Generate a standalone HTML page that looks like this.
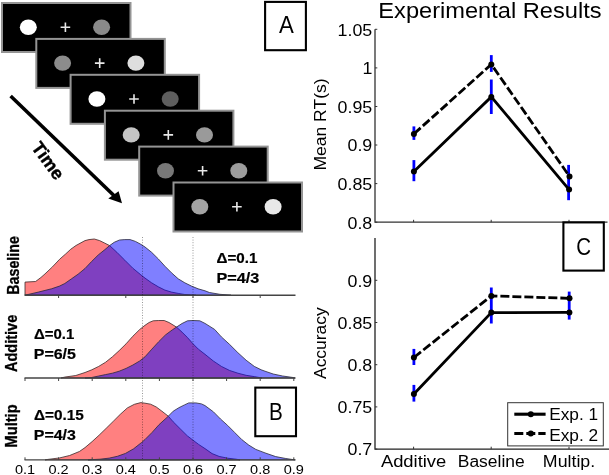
<!DOCTYPE html>
<html><head><meta charset="utf-8"><style>
html,body{margin:0;padding:0;background:#fff;}
svg{display:block;will-change:transform;}
text{font-family:"Liberation Sans", sans-serif;fill:#000;}
</style></head><body>
<svg width="609" height="475" viewBox="0 0 609 475">
<rect width="609" height="475" fill="#fff"/>
<rect x="2.0" y="3.0" width="128.5" height="49" fill="#000" stroke="#949494" stroke-width="2"/>
<ellipse cx="28.3" cy="27.2" rx="8.5" ry="7.7" fill="#ffffff"/>
<ellipse cx="101.6" cy="27.2" rx="8.5" ry="7.7" fill="#8a8a8a"/>
<path d="M60.6 27.2H70.2M65.4 22.4V32.0" stroke="#e8e8e8" stroke-width="1.6"/>
<rect x="36.3" y="38.9" width="128.5" height="49" fill="#000" stroke="#949494" stroke-width="2"/>
<ellipse cx="62.6" cy="63.1" rx="8.5" ry="7.7" fill="#8c8c8c"/>
<ellipse cx="135.9" cy="63.1" rx="8.5" ry="7.7" fill="#dedede"/>
<path d="M94.9 63.1H104.5M99.7 58.3V67.9" stroke="#e8e8e8" stroke-width="1.6"/>
<rect x="70.6" y="74.8" width="128.5" height="49" fill="#000" stroke="#949494" stroke-width="2"/>
<ellipse cx="96.9" cy="99.0" rx="8.5" ry="7.7" fill="#ffffff"/>
<ellipse cx="170.2" cy="99.0" rx="8.5" ry="7.7" fill="#5e5e5e"/>
<path d="M129.2 99.0H138.8M134.0 94.2V103.8" stroke="#e8e8e8" stroke-width="1.6"/>
<rect x="104.9" y="110.7" width="128.5" height="49" fill="#000" stroke="#949494" stroke-width="2"/>
<ellipse cx="131.2" cy="134.9" rx="8.5" ry="7.7" fill="#c4c4c4"/>
<ellipse cx="204.5" cy="134.9" rx="8.5" ry="7.7" fill="#9a9a9a"/>
<path d="M163.5 134.9H173.1M168.3 130.1V139.7" stroke="#e8e8e8" stroke-width="1.6"/>
<rect x="139.2" y="146.6" width="128.5" height="49" fill="#000" stroke="#949494" stroke-width="2"/>
<ellipse cx="165.5" cy="170.8" rx="8.5" ry="7.7" fill="#787878"/>
<ellipse cx="238.8" cy="170.8" rx="8.5" ry="7.7" fill="#9c9c9c"/>
<path d="M197.8 170.8H207.4M202.6 166.0V175.6" stroke="#e8e8e8" stroke-width="1.6"/>
<rect x="173.5" y="182.5" width="128.5" height="49" fill="#000" stroke="#949494" stroke-width="2"/>
<ellipse cx="199.8" cy="206.7" rx="8.5" ry="7.7" fill="#a4a4a4"/>
<ellipse cx="273.1" cy="206.7" rx="8.5" ry="7.7" fill="#e8e8e8"/>
<path d="M232.1 206.7H241.7M236.9 201.9V211.5" stroke="#e8e8e8" stroke-width="1.6"/>
<rect x="265.1" y="1.9" width="40.8" height="48.3" fill="#fff" stroke="#000" stroke-width="2.1"/>
<text x="286.3" y="33.4" font-size="23.3" text-anchor="middle" textLength="14.8" lengthAdjust="spacingAndGlyphs">A</text>
<path d="M10.6 96 L116.5 198" stroke="#000" stroke-width="3.6" fill="none"/>
<path d="M122 203.3 L108.3 198.6 L118.6 191.2 Z" fill="#000"/>
<text x="0" y="0" font-size="18" font-weight="700" text-anchor="middle" stroke="#000" stroke-width="0.4" transform="translate(48.2 160.6) rotate(54) translate(0 6.3)">Time</text>
<polygon points="25.0,295.2 25.0,282.1 35.6,281.5 40.9,277.5 45.0,273.9 52.4,266.9 59.7,259.2 65.6,254.0 70.8,249.2 76.0,245.5 80.0,243.3 85.0,240.6 89.0,239.6 94.3,239.0 99.6,240.6 104.9,243.2 109.6,245.6 116.9,252.3 124.8,260.2 132.8,268.2 140.8,274.8 145.0,278.1 151.6,282.8 158.3,286.8 164.9,290.1 171.5,292.1 178.2,293.4 184.8,294.5 191.5,295.0 196.0,295.2" fill="#ff8080" stroke="#3a2a2a" stroke-width="0.8"/>
<polygon points="25.0,295.2 38.3,292.1 51.5,288.8 59.5,286.1 64.8,283.5 71.5,278.8 78.1,274.2 85.0,268.5 91.6,261.5 98.3,254.9 104.9,249.6 109.6,245.6 114.2,242.3 119.5,240.0 124.8,239.6 130.1,239.6 135.4,241.4 140.8,244.3 145.0,247.0 151.6,252.3 158.3,258.9 164.9,266.2 171.5,272.8 178.2,278.8 184.8,282.8 191.5,286.1 198.1,288.8 205.0,290.8 209.4,292.5 219.9,294.3 231.0,295.2" fill="rgba(0,0,255,0.5)" stroke="#2a2a3a" stroke-width="0.8"/>
<line x1="24.5" y1="295.2" x2="295.5" y2="295.2" stroke="#444" stroke-width="1.4"/>
<polygon points="61.0,378.0 64.7,377.1 75.8,375.5 85.0,372.5 91.8,369.8 98.7,366.4 105.5,362.3 112.4,356.8 119.2,350.6 126.1,343.8 132.9,336.2 139.8,329.4 145.0,325.3 149.1,322.5 153.2,320.8 158.7,320.5 164.2,320.5 169.0,322.5 176.5,327.1 182.0,332.1 187.5,337.6 193.0,343.8 198.4,349.2 205.0,354.3 213.2,360.9 221.4,366.4 229.7,370.5 237.9,373.2 246.1,375.3 254.3,376.6 262.0,378.0" fill="#ff8080" stroke="#3a2a2a" stroke-width="0.8"/>
<polygon points="85.0,378.0 91.6,377.5 98.7,376.0 105.5,374.6 112.4,373.2 119.2,371.2 126.1,368.4 132.9,365.0 139.8,360.9 145.0,356.8 151.8,349.2 158.7,341.7 165.5,334.9 172.4,329.8 176.5,327.1 182.0,323.5 187.5,320.8 193.0,320.5 199.8,320.8 205.0,323.4 214.6,329.4 221.4,336.9 229.7,344.5 237.9,352.7 246.1,360.2 254.3,366.4 261.2,369.8 265.0,371.2 273.2,374.0 282.6,376.0 293.7,377.6 295.0,378.0" fill="rgba(0,0,255,0.5)" stroke="#2a2a3a" stroke-width="0.8"/>
<line x1="24.5" y1="378.0" x2="295.5" y2="378.0" stroke="#444" stroke-width="1.4"/>
<polygon points="45.0,459.9 47.9,459.4 59.7,457.9 69.6,455.5 79.4,451.5 85.0,447.6 92.1,441.6 99.1,435.2 106.2,428.3 113.2,421.4 120.3,414.3 127.4,407.9 134.4,404.3 140.8,402.6 145.0,403.2 150.6,404.2 156.3,407.0 161.9,411.2 168.3,416.2 173.2,421.8 180.3,428.9 187.4,435.9 193.0,440.2 198.6,444.4 205.0,448.6 212.1,453.6 219.1,456.4 227.6,458.2 236.1,459.2 240.0,459.9" fill="#ff8080" stroke="#3a2a2a" stroke-width="0.8"/>
<polygon points="88.0,459.9 92.0,459.6 100.0,459.2 109.3,458.1 117.4,456.3 125.5,453.4 133.6,448.8 141.7,442.4 145.0,439.5 152.1,432.4 159.1,424.6 168.3,416.2 173.2,411.2 178.9,407.7 184.5,404.9 188.8,402.9 195.8,402.9 201.5,403.9 205.0,405.6 213.5,411.9 220.5,419.0 227.6,425.4 234.6,432.4 241.7,439.5 248.8,445.1 255.8,449.4 265.0,452.9 275.7,456.6 285.8,458.5 295.1,459.9" fill="rgba(0,0,255,0.5)" stroke="#2a2a3a" stroke-width="0.8"/>
<line x1="24.5" y1="459.9" x2="295.5" y2="459.9" stroke="#444" stroke-width="1.4"/>
<line x1="142.5" y1="237" x2="142.5" y2="460" stroke="#000" stroke-opacity="0.45" stroke-width="0.9" stroke-dasharray="1 1.6"/>
<line x1="193.0" y1="237" x2="193.0" y2="460" stroke="#000" stroke-opacity="0.45" stroke-width="0.9" stroke-dasharray="1 1.6"/>
<line x1="58.6" y1="295.2" x2="58.6" y2="298" stroke="#444" stroke-width="1"/>
<line x1="125.8" y1="295.2" x2="125.8" y2="298" stroke="#444" stroke-width="1"/>
<line x1="193.0" y1="295.2" x2="193.0" y2="298" stroke="#444" stroke-width="1"/>
<line x1="260.2" y1="295.2" x2="260.2" y2="298" stroke="#444" stroke-width="1"/>
<line x1="25.0" y1="378" x2="25.0" y2="381" stroke="#444" stroke-width="1"/>
<line x1="58.6" y1="378" x2="58.6" y2="381" stroke="#444" stroke-width="1"/>
<line x1="92.2" y1="378" x2="92.2" y2="381" stroke="#444" stroke-width="1"/>
<line x1="125.8" y1="378" x2="125.8" y2="381" stroke="#444" stroke-width="1"/>
<line x1="159.4" y1="378" x2="159.4" y2="381" stroke="#444" stroke-width="1"/>
<line x1="193.0" y1="378" x2="193.0" y2="381" stroke="#444" stroke-width="1"/>
<line x1="226.6" y1="378" x2="226.6" y2="381" stroke="#444" stroke-width="1"/>
<line x1="260.2" y1="378" x2="260.2" y2="381" stroke="#444" stroke-width="1"/>
<line x1="293.8" y1="378" x2="293.8" y2="381" stroke="#444" stroke-width="1"/>
<line x1="25.0" y1="459.9" x2="25.0" y2="457.3" stroke="#444" stroke-width="1"/>
<line x1="58.6" y1="459.9" x2="58.6" y2="457.3" stroke="#444" stroke-width="1"/>
<line x1="92.2" y1="459.9" x2="92.2" y2="457.3" stroke="#444" stroke-width="1"/>
<line x1="125.8" y1="459.9" x2="125.8" y2="457.3" stroke="#444" stroke-width="1"/>
<line x1="159.4" y1="459.9" x2="159.4" y2="457.3" stroke="#444" stroke-width="1"/>
<line x1="193.0" y1="459.9" x2="193.0" y2="457.3" stroke="#444" stroke-width="1"/>
<line x1="226.6" y1="459.9" x2="226.6" y2="457.3" stroke="#444" stroke-width="1"/>
<line x1="260.2" y1="459.9" x2="260.2" y2="457.3" stroke="#444" stroke-width="1"/>
<line x1="293.8" y1="459.9" x2="293.8" y2="457.3" stroke="#444" stroke-width="1"/>
<text x="25.0" y="473.6" font-size="13.6" text-anchor="middle" textLength="20.2" lengthAdjust="spacingAndGlyphs">0.1</text>
<text x="58.6" y="473.6" font-size="13.6" text-anchor="middle" textLength="20.2" lengthAdjust="spacingAndGlyphs">0.2</text>
<text x="92.2" y="473.6" font-size="13.6" text-anchor="middle" textLength="20.2" lengthAdjust="spacingAndGlyphs">0.3</text>
<text x="125.8" y="473.6" font-size="13.6" text-anchor="middle" textLength="20.2" lengthAdjust="spacingAndGlyphs">0.4</text>
<text x="159.4" y="473.6" font-size="13.6" text-anchor="middle" textLength="20.2" lengthAdjust="spacingAndGlyphs">0.5</text>
<text x="193.0" y="473.6" font-size="13.6" text-anchor="middle" textLength="20.2" lengthAdjust="spacingAndGlyphs">0.6</text>
<text x="226.6" y="473.6" font-size="13.6" text-anchor="middle" textLength="20.2" lengthAdjust="spacingAndGlyphs">0.7</text>
<text x="260.2" y="473.6" font-size="13.6" text-anchor="middle" textLength="20.2" lengthAdjust="spacingAndGlyphs">0.8</text>
<text x="293.8" y="473.6" font-size="13.6" text-anchor="middle" textLength="20.2" lengthAdjust="spacingAndGlyphs">0.9</text>
<text x="0" y="0" font-size="16" font-weight="700" stroke="#000" stroke-width="0.3" text-anchor="middle" textLength="58.5" lengthAdjust="spacingAndGlyphs" transform="translate(18.5 265.4) rotate(-90)">Baseline</text>
<text x="0" y="0" font-size="16" font-weight="700" stroke="#000" stroke-width="0.3" text-anchor="middle" textLength="57.2" lengthAdjust="spacingAndGlyphs" transform="translate(17.3 343.4) rotate(-90)">Additive</text>
<text x="0" y="0" font-size="16" font-weight="700" stroke="#000" stroke-width="0.3" text-anchor="middle" textLength="43.2" lengthAdjust="spacingAndGlyphs" transform="translate(17.2 425.95) rotate(-90)">Multip</text>
<text x="216.5" y="262.6" font-size="14" font-weight="700" stroke="#000" stroke-width="0.2" textLength="40.9" lengthAdjust="spacingAndGlyphs">Δ=0.1</text>
<text x="216.5" y="283.0" font-size="14" font-weight="700" stroke="#000" stroke-width="0.2" textLength="42.8" lengthAdjust="spacingAndGlyphs">P=4/3</text>
<text x="34" y="339.4" font-size="14" font-weight="700" stroke="#000" stroke-width="0.2" textLength="40.3" lengthAdjust="spacingAndGlyphs">Δ=0.1</text>
<text x="33.8" y="359.1" font-size="14" font-weight="700" stroke="#000" stroke-width="0.2" textLength="42.1" lengthAdjust="spacingAndGlyphs">P=6/5</text>
<text x="34" y="420.1" font-size="14" font-weight="700" stroke="#000" stroke-width="0.2" textLength="49.8" lengthAdjust="spacingAndGlyphs">Δ=0.15</text>
<text x="33.8" y="440.2" font-size="14" font-weight="700" stroke="#000" stroke-width="0.2" textLength="42.1" lengthAdjust="spacingAndGlyphs">P=4/3</text>
<rect x="255.3" y="387.6" width="40.7" height="48.6" fill="#fff" stroke="#000" stroke-width="2.1"/>
<text x="276.0" y="419.9" font-size="23.5" text-anchor="middle" textLength="13.8" lengthAdjust="spacingAndGlyphs">B</text>
<text x="378.3" y="17.6" font-size="22.3" textLength="223.3" lengthAdjust="spacingAndGlyphs">Experimental Results</text>
<path d="M375 29.3 V222.2 H607.5" fill="none" stroke="#333" stroke-width="1.3"/>
<path d="M375 238.1 V449.1 H609" fill="none" stroke="#222" stroke-width="1.3"/>
<line x1="375" y1="29.3" x2="377.3" y2="29.3" stroke="#333" stroke-width="1"/>
<text x="372.3" y="35.6" font-size="16.8" text-anchor="end" textLength="34.7" lengthAdjust="spacingAndGlyphs">1.05</text>
<line x1="375" y1="67.9" x2="377.3" y2="67.9" stroke="#333" stroke-width="1"/>
<text x="372.3" y="74.2" font-size="16.8" text-anchor="end" textLength="9.9" lengthAdjust="spacingAndGlyphs">1</text>
<line x1="375" y1="106.5" x2="377.3" y2="106.5" stroke="#333" stroke-width="1"/>
<text x="372.3" y="112.8" font-size="16.8" text-anchor="end" textLength="34.7" lengthAdjust="spacingAndGlyphs">0.95</text>
<line x1="375" y1="145.0" x2="377.3" y2="145.0" stroke="#333" stroke-width="1"/>
<text x="372.3" y="151.3" font-size="16.8" text-anchor="end" textLength="24.8" lengthAdjust="spacingAndGlyphs">0.9</text>
<line x1="375" y1="183.6" x2="377.3" y2="183.6" stroke="#333" stroke-width="1"/>
<text x="372.3" y="189.9" font-size="16.8" text-anchor="end" textLength="34.7" lengthAdjust="spacingAndGlyphs">0.85</text>
<line x1="375" y1="222.2" x2="377.3" y2="222.2" stroke="#333" stroke-width="1"/>
<text x="372.3" y="228.5" font-size="16.8" text-anchor="end" textLength="24.8" lengthAdjust="spacingAndGlyphs">0.8</text>
<line x1="375" y1="280.3" x2="377.3" y2="280.3" stroke="#333" stroke-width="1"/>
<text x="372.3" y="286.6" font-size="16.8" text-anchor="end" textLength="24.8" lengthAdjust="spacingAndGlyphs">0.9</text>
<line x1="375" y1="322.5" x2="377.3" y2="322.5" stroke="#333" stroke-width="1"/>
<text x="372.3" y="328.8" font-size="16.8" text-anchor="end" textLength="34.7" lengthAdjust="spacingAndGlyphs">0.85</text>
<line x1="375" y1="364.7" x2="377.3" y2="364.7" stroke="#333" stroke-width="1"/>
<text x="372.3" y="371.0" font-size="16.8" text-anchor="end" textLength="24.8" lengthAdjust="spacingAndGlyphs">0.8</text>
<line x1="375" y1="406.9" x2="377.3" y2="406.9" stroke="#333" stroke-width="1"/>
<text x="372.3" y="413.2" font-size="16.8" text-anchor="end" textLength="34.7" lengthAdjust="spacingAndGlyphs">0.75</text>
<line x1="375" y1="449.1" x2="377.3" y2="449.1" stroke="#333" stroke-width="1"/>
<text x="372.3" y="455.4" font-size="16.8" text-anchor="end" textLength="24.8" lengthAdjust="spacingAndGlyphs">0.7</text>
<line x1="413.6" y1="222.2" x2="413.6" y2="219.8" stroke="#333" stroke-width="1"/>
<line x1="413.6" y1="449.1" x2="413.6" y2="446.7" stroke="#333" stroke-width="1"/>
<line x1="491.2" y1="222.2" x2="491.2" y2="219.8" stroke="#333" stroke-width="1"/>
<line x1="491.2" y1="449.1" x2="491.2" y2="446.7" stroke="#333" stroke-width="1"/>
<line x1="569.0" y1="222.2" x2="569.0" y2="219.8" stroke="#333" stroke-width="1"/>
<line x1="569.0" y1="449.1" x2="569.0" y2="446.7" stroke="#333" stroke-width="1"/>
<text x="0" y="0" font-size="16" text-anchor="middle" textLength="92.2" lengthAdjust="spacingAndGlyphs" transform="translate(326.2 124.5) rotate(-90)">Mean RT(s)</text>
<text x="0" y="0" font-size="16" text-anchor="middle" textLength="71.7" lengthAdjust="spacingAndGlyphs" transform="translate(326.2 343.15) rotate(-90)">Accuracy</text>
<text x="413.6" y="466.6" font-size="16" text-anchor="middle" textLength="65.4" lengthAdjust="spacingAndGlyphs">Additive</text>
<text x="491.2" y="466.6" font-size="16" text-anchor="middle" textLength="66.9" lengthAdjust="spacingAndGlyphs">Baseline</text>
<text x="569.0" y="466.6" font-size="16" text-anchor="middle" textLength="52.3" lengthAdjust="spacingAndGlyphs">Multip.</text>
<line x1="413.9" y1="126.4" x2="413.9" y2="139.9" stroke="#0000ff" stroke-width="2.8"/>
<line x1="413.9" y1="160.1" x2="413.9" y2="181.2" stroke="#0000ff" stroke-width="2.8"/>
<line x1="491.3" y1="55.1" x2="491.3" y2="71.9" stroke="#0000ff" stroke-width="2.8"/>
<line x1="491.3" y1="79.5" x2="491.3" y2="114" stroke="#0000ff" stroke-width="2.8"/>
<line x1="568.6" y1="164.9" x2="568.6" y2="200.2" stroke="#0000ff" stroke-width="2.8"/>
<polyline points="413.9,171.4 491.3,96.9 569.1,189.6" fill="none" stroke="#000" stroke-width="2.8"/>
<polyline points="413.9,133.9 491.3,64.4 569.5,176.4" fill="none" stroke="#000" stroke-width="2.8" stroke-dasharray="9 3"/>
<circle cx="413.9" cy="171.4" r="3" fill="#000"/>
<circle cx="491.3" cy="96.9" r="3" fill="#000"/>
<circle cx="569.1" cy="189.6" r="3" fill="#000"/>
<circle cx="413.9" cy="133.9" r="3" fill="#000"/>
<circle cx="491.3" cy="64.4" r="3" fill="#000"/>
<circle cx="569.5" cy="176.4" r="3" fill="#000"/>
<line x1="413.9" y1="348.9" x2="413.9" y2="365" stroke="#0000ff" stroke-width="2.8"/>
<line x1="413.9" y1="384.9" x2="413.9" y2="401.6" stroke="#0000ff" stroke-width="2.8"/>
<line x1="491.3" y1="287.5" x2="491.3" y2="323.5" stroke="#0000ff" stroke-width="2.8"/>
<line x1="569.2" y1="291.6" x2="569.2" y2="319.6" stroke="#0000ff" stroke-width="2.8"/>
<polyline points="413.9,394.0 491.3,312.6 569.4,312.4" fill="none" stroke="#000" stroke-width="2.8"/>
<polyline points="413.9,357.5 491.3,295.9 569.5,298.3" fill="none" stroke="#000" stroke-width="2.8" stroke-dasharray="9 3"/>
<circle cx="413.9" cy="394" r="3" fill="#000"/>
<circle cx="491.3" cy="312.6" r="3" fill="#000"/>
<circle cx="569.4" cy="312.4" r="3" fill="#000"/>
<circle cx="413.9" cy="357.5" r="3" fill="#000"/>
<circle cx="491.3" cy="295.9" r="3" fill="#000"/>
<circle cx="569.5" cy="298.3" r="3" fill="#000"/>
<rect x="507.7" y="402.7" width="95.6" height="43.2" fill="#fff" stroke="#333" stroke-width="1"/>
<line x1="514.3" y1="414.2" x2="545.6" y2="414.2" stroke="#000" stroke-width="3.1"/><circle cx="530.8" cy="414.2" r="3"/>
<line x1="514.3" y1="433.5" x2="545.6" y2="433.5" stroke="#000" stroke-width="3.1" stroke-dasharray="9 3"/><circle cx="530.8" cy="433.5" r="3"/>
<text x="549.2" y="420.4" font-size="16" textLength="49" lengthAdjust="spacingAndGlyphs">Exp. 1</text>
<text x="549.2" y="441" font-size="16" textLength="49" lengthAdjust="spacingAndGlyphs">Exp. 2</text>
<rect x="563.4" y="222.4" width="40.4" height="48.2" fill="#fff" stroke="#000" stroke-width="2.1"/>
<text x="583.7" y="254.8" font-size="23.0" text-anchor="middle" textLength="14.8" lengthAdjust="spacingAndGlyphs">C</text>
</svg>
</body></html>
